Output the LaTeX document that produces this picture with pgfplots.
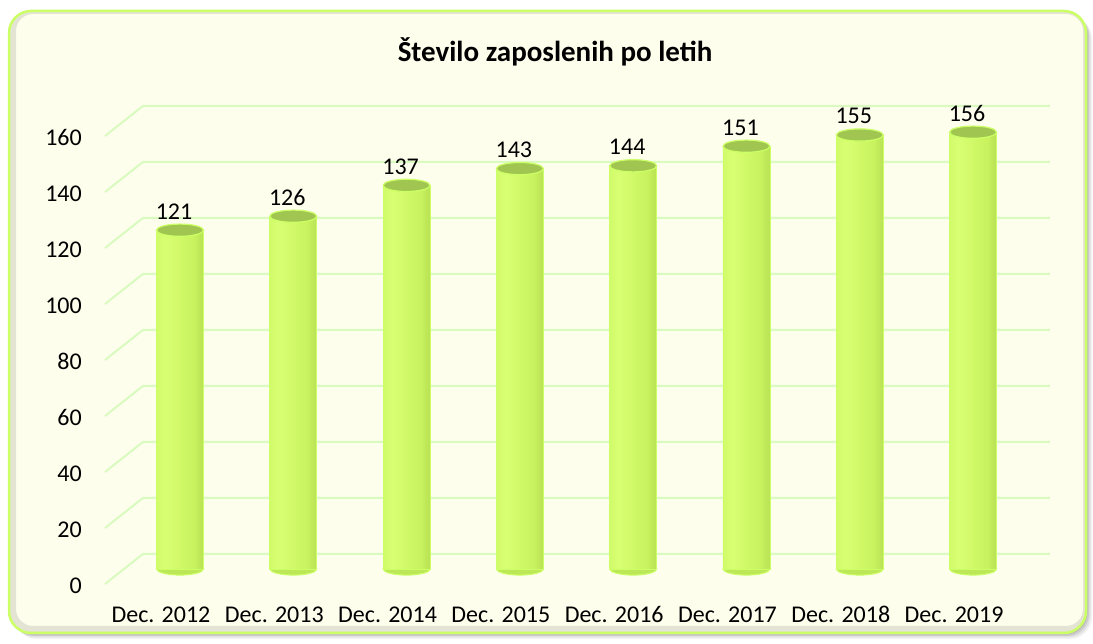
\documentclass[border=0pt]{standalone}
\usepackage{fontspec}
\setmainfont{Carlito}
\usepackage{pgfplots}
\pgfplotsset{compat=1.18}
\definecolor{bg}{HTML}{FDFEEC}
\definecolor{frame}{HTML}{CCFF66}
\definecolor{gridc}{HTML}{DAFBC0}
\definecolor{rim}{HTML}{CCFF66}
\definecolor{topc}{HTML}{A0C550}
\definecolor{botc}{HTML}{BCE858}
\definecolor{c0}{HTML}{A8D444}
\definecolor{c1}{HTML}{C6F45E}
\definecolor{c2}{HTML}{D8FF72}
\definecolor{c3}{HTML}{C8F25E}
\definecolor{c4}{HTML}{9EC445}
\definecolor{c5}{HTML}{B8E655}
\pgfdeclarehorizontalshading{cyl}{100bp}{color(0bp)=(c0); color(8bp)=(c1); color(35bp)=(c2); color(65bp)=(c3); color(92bp)=(c4); color(100bp)=(c5)}
\pgfplotsset{cylbar/.style={ybar, bar width=47pt, bar shift=0pt, shading=cyl, draw=rim, line width=0.8pt}}
\pgfplotstableread{
x y
0 121
1 126
2 137
3 143
4 144
5 151
6 155
7 156
}\datatable
\begin{document}
\begin{tikzpicture}
\path[fill=white] (0pt,0pt) rectangle (1093pt,644pt);
% outer shadow
\foreach \o/\op in {6/0.05,4.5/0.07,3/0.09,1.5/0.1}{
  \fill[black,opacity=\op,rounded corners=22pt] ({(9+\o)*1pt},{(11-\o)*1pt}) rectangle ({(1086+\o)*1pt},{(633-\o)*1pt});
}
\fill[bg,rounded corners=22pt] (9pt,11pt) rectangle (1086pt,633pt);
\begin{scope}
\clip[rounded corners=22pt] (9pt,11pt) rectangle (1086pt,633pt);
\draw[black,opacity=0.10,line width=10pt,rounded corners=22pt] (11pt,13pt) rectangle (1088pt,635pt);
\end{scope}
\draw[frame,line width=2.5pt,rounded corners=22pt] (9pt,11pt) rectangle (1086pt,633pt);
\node[anchor=base,font=\fontsize{29}{34}\selectfont\bfseries,inner sep=0pt] at (555pt,582pt) {Število zaposlenih po letih};
\begin{axis}[
  at={(105pt,60pt)}, anchor=south west, scale only axis,
  width=945pt, height=478pt,
  xmin=-0.662, xmax=7.679, ymin=-5.357, ymax=165.357,
  clip=false, clip marker paths=true,
  axis line style={draw=none}, major tick length=0pt, tick style={draw=none},
  /pgf/number format/assume math mode=true,
  ytick={-5.357,14.643,34.643,54.643,74.643,94.643,114.643,134.643,154.643},
  yticklabels={0,20,40,60,80,100,120,140,160},
  xtick={0,1,2,3,4,5,6,7},
  xticklabels={Dec. 2012,Dec. 2013,Dec. 2014,Dec. 2015,Dec. 2016,Dec. 2017,Dec. 2018,Dec. 2019},
  tick label style={font=\fontsize{24}{28}\selectfont, text=black, inner sep=0pt},
  yticklabel style={anchor=base east, xshift=-23pt, yshift=-10pt},
  xticklabel style={anchor=base, yshift=-39pt, xshift=-19pt},
]
\pgfplotsinvokeforeach{0,20,...,160}{
  \draw[gridc,line width=2pt] (axis cs:-0.662,{#1-5.357}) -- (axis cs:-0.3266,{#1+5.357}) -- (axis cs:7.679,{#1+5.357});
}
\addplot[only marks, mark=*, mark size=23.5pt, mark options={yscale=0.26, fill=botc, draw=rim, line width=1pt}] coordinates {(0,0) (1,0) (2,0) (3,0) (4,0) (5,0) (6,0) (7,0)};
\addplot[cylbar] coordinates {(0,121)};
\addplot[cylbar] coordinates {(1,126)};
\addplot[cylbar] coordinates {(2,137)};
\addplot[cylbar] coordinates {(3,143)};
\addplot[cylbar] coordinates {(4,144)};
\addplot[cylbar] coordinates {(5,151)};
\addplot[cylbar] coordinates {(6,155)};
\addplot[cylbar] coordinates {(7,156)};
\addplot[only marks, mark=*, mark size=23.5pt, mark options={yscale=0.26, fill=topc, draw=rim, line width=1.2pt},
  nodes near coords,
  every node near coord/.append style={anchor=base, yshift=11pt, xshift=-6pt, inner sep=0pt, font=\fontsize{24}{28}\selectfont, text=black}
] table[x=x,y=y] {\datatable};
\end{axis}
\end{tikzpicture}
\end{document}
